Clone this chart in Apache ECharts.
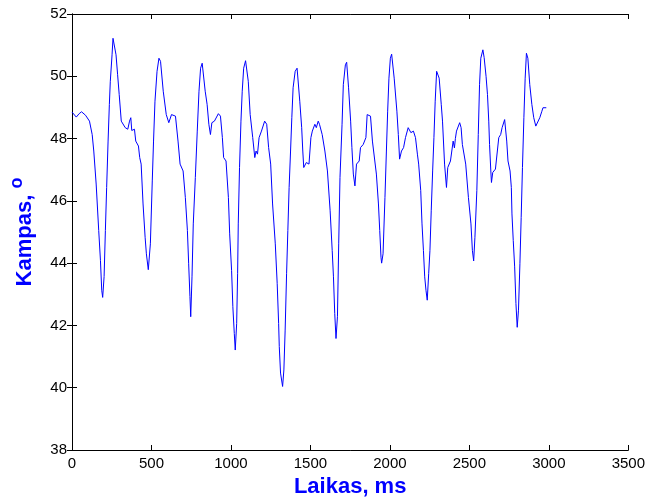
<!DOCTYPE html>
<html>
<head>
<meta charset="utf-8">
<script src="https://cdn.jsdelivr.net/npm/echarts@6/dist/echarts.min.js"></script>
<style>html,body{margin:0;padding:0;background:#fff}#c{width:648px;height:503px}</style>
</head>
<body>
<div id="c"></div>
<script>
var timesMs = [0,5,27,45,60,85,110,127,137,152,168,179,187,193,202,210,218,227,235,241,252,258,268,277,287,297,310,335,351,362,370,376,393,401,418,426,435,447,460,468,480,493,505,513,522,535,547,557,574,593,609,626,651,667,680,699,713,726,734,742,747,755,763,776,788,799,809,819,838,850,861,871,880,896,921,934,946,954,969,984,992,1004,1012,1021,1027,1036,1042,1046,1054,1063,1071,1080,1092,1109,1121,1137,1150,1158,1167,1177,1192,1212,1225,1237,1250,1262,1279,1291,1300,1304,1312,1325,1333,1341,1350,1358,1366,1375,1383,1391,1404,1416,1433,1445,1452,1458,1474,1491,1503,1512,1528,1537,1549,1557,1574,1591,1607,1624,1637,1645,1653,1661,1670,1678,1686,1699,1707,1720,1728,1740,1753,1761,1770,1780,1790,1807,1815,1832,1849,1857,1878,1890,1915,1928,1936,1944,1948,1957,1969,1978,1986,1994,2003,2011,2027,2044,2053,2061,2073,2086,2098,2115,2132,2148,2161,2173,2181,2194,2202,2211,2219,2227,2235,2244,2252,2260,2269,2277,2285,2294,2302,2310,2323,2331,2344,2356,2364,2381,2398,2406,2412,2419,2439,2448,2456,2477,2494,2510,2519,2527,2535,2547,2556,2564,2572,2585,2593,2605,2614,2622,2627,2635,2639,2647,2664,2676,2685,2697,2706,2722,2731,2735,2743,2756,2764,2768,2776,2785,2793,2801,2809,2818,2826,2834,2843,2851,2859,2868,2880,2893,2905,2918,2930,2943,2955,2963,2984];
var angleDeg = [48.85,48.85,48.69,48.8,48.86,48.75,48.56,48.13,47.6,46.54,45.05,44.09,43.13,42.9,43.57,45.05,46.43,47.92,49.09,49.84,50.69,51.22,51.25,50.69,50.05,49.41,48.56,48.35,48.3,48.56,48.67,48.26,48.3,47.92,47.76,47.39,47.18,45.9,44.83,44.3,43.79,44.62,46.64,47.92,49.2,50.16,50.58,50.48,49.52,48.77,48.51,48.77,48.72,47.92,47.18,46.96,46.11,45.05,43.98,42.93,42.28,43.56,45.26,46.75,48.24,49.52,50.26,50.42,49.52,49.1,48.46,48.13,48.51,48.56,48.8,48.72,48.03,47.39,47.28,46.11,44.94,43.77,42.6,41.74,41.21,42.06,43.66,45.26,47.07,48.56,49.52,50.26,50.5,49.84,48.77,48.03,47.39,47.6,47.5,48.03,48.24,48.56,48.46,47.71,47.18,45.9,44.62,43.34,42.06,41.32,40.47,40.04,40.57,41.85,43.66,45.05,46.43,47.6,48.67,49.63,50.16,50.26,49.2,48.35,47.6,47.07,47.23,47.18,48.03,48.24,48.46,48.35,48.56,48.46,48.13,47.6,46.96,45.68,44.41,43.56,42.38,41.58,42.28,44.62,46.75,48.46,49.73,50.37,50.45,49.63,48.56,47.71,46.86,46.48,47.18,47.28,47.71,47.81,48.03,48.77,48.72,47.92,46.86,45.9,45.05,44.19,44.0,44.3,46.11,47.6,48.88,49.94,50.58,50.71,49.94,48.88,48.13,47.34,47.6,47.71,48.03,48.35,48.19,48.24,48.03,47.5,47.18,46.33,45.26,44.41,43.56,43.13,42.81,43.66,44.41,45.68,46.96,48.03,49.2,50.16,50.21,49.94,49.1,48.56,47.18,46.43,47.07,47.28,47.92,47.7,48.0,48.24,48.51,48.35,47.81,47.18,46.11,45.26,44.41,44.07,44.83,46.33,48.13,49.73,50.58,50.85,50.6,50.0,49.41,48.56,47.81,46.96,46.59,46.91,47.02,46.96,48.03,48.13,48.35,48.61,48.56,47.92,47.28,46.96,46.43,45.58,44.73,43.88,42.7,41.94,42.49,43.98,45.47,47.07,48.67,49.94,50.74,50.58,49.73,49.1,48.67,48.4,48.35,48.67,48.86,48.99,48.99];
var xTicks = [0,500,1000,1500,2000,2500,3000,3500];
var yTicks = [38,40,42,44,46,48,50,52];

var pts = timesMs.map(function(t,i){return [t, angleDeg[i]];});
var FONT = 'Liberation Sans, Arial, sans-serif';
var chart = echarts.init(document.getElementById('c'), null, {renderer:'canvas'});
var tickStyle = {show:true, inside:true, length:5, lineStyle:{color:'#000', width:1}};
var lineStyle = {show:true, lineStyle:{color:'#000', width:1}};
chart.setOption({
  animation:false,
  backgroundColor:'#fff',
  grid:{left:71, right:16, top:14, bottom:50, containLabel:false},
  xAxis:[{
    type:'value', min:xTicks[0], max:xTicks[xTicks.length-1], interval:500,
    name:'Laikas, ms', nameLocation:'middle', nameGap:26,
    nameTextStyle:{color:'#0000ff', fontWeight:'bold', fontSize:22, fontFamily:FONT},
    axisLine:lineStyle, axisTick:tickStyle, splitLine:{show:false},
    axisLabel:{color:'#000', fontSize:15, fontFamily:FONT, margin:6, formatter:function(v){return String(v);}}
  },{
    type:'value', position:'top', min:xTicks[0], max:xTicks[xTicks.length-1], interval:500,
    axisLine:lineStyle, axisTick:tickStyle, splitLine:{show:false}, axisLabel:{show:false}
  }],
  yAxis:[{
    type:'value', min:yTicks[0], max:yTicks[yTicks.length-1], interval:2,
    name:'{a|Kampas, }{b|o}', nameLocation:'middle', nameGap:36, nameRotate:90,
    nameTextStyle:{color:'#0000ff', fontWeight:'bold', fontSize:22, fontFamily:FONT,
      rich:{a:{color:'#0000ff', fontWeight:'bold', fontSize:22, fontFamily:FONT, lineHeight:28, verticalAlign:'bottom'},
            b:{color:'#0000ff', fontWeight:'bold', fontSize:18, fontFamily:FONT, lineHeight:16, verticalAlign:'top'}}},
    axisLine:lineStyle, axisTick:tickStyle, splitLine:{show:false},
    axisLabel:{color:'#000', fontSize:15, fontFamily:FONT, margin:5}
  },{
    type:'value', position:'right', min:yTicks[0], max:yTicks[yTicks.length-1], interval:2,
    axisLine:lineStyle, axisTick:tickStyle, splitLine:{show:false}, axisLabel:{show:false}
  }],
  series:[{
    type:'line', xAxisIndex:0, yAxisIndex:0, data:pts, showSymbol:false, symbol:'none',
    lineStyle:{color:'#0000ff', width:1}
  }]
});
</script>
</body>
</html>
